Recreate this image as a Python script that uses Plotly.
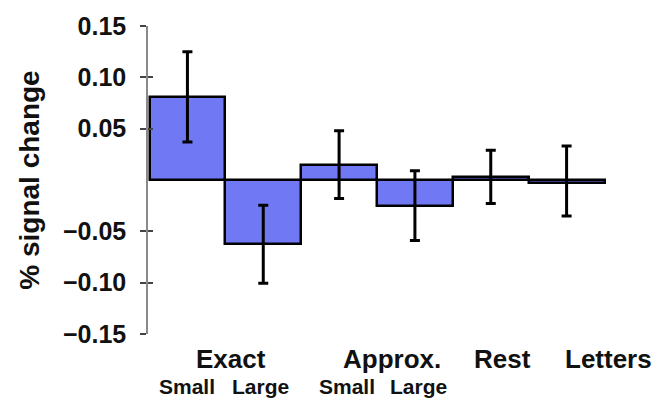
import plotly.graph_objects as go

# Mean % signal change per condition, with error bar lengths above / below the mean
conditions = ["Exact Small", "Exact Large", "Approx. Small", "Approx. Large", "Rest", "Letters"]
signal_change = [0.081, -0.0625, 0.015, -0.025, 0.003, -0.003]
error_plus = [0.044, 0.038, 0.033, 0.034, 0.026, 0.036]
error_minus = [0.044, 0.038, 0.033, 0.034, 0.026, 0.032]

# Y-axis ticks (no label at zero)
y_tickvals = [-0.15, -0.10, -0.05, 0.05, 0.10, 0.15]
y_ticktext = ["\u22120.15", "\u22120.10", "\u22120.05", "0.05", "0.10", "0.15"]

# Group labels under the bars and sub-labels for each bar
group_labels = ["Exact", "Approx.", "Rest", "Letters"]
group_label_x = [0.58, 2.70, 4.16, 5.55]
sub_labels = ["Small", "Large", "Small", "Large"]
sub_label_x = [0.0, 0.96, 2.10, 3.05]

FONT = "Liberation Sans, Arial, sans-serif"
bar_x = list(range(len(conditions)))

fig = go.Figure()
fig.add_trace(go.Bar(
    x=bar_x,
    y=signal_change,
    width=1.0,
    marker=dict(color="#7078f4", line=dict(color="#000000", width=2.5)),
    error_y=dict(type="data", array=error_plus, arrayminus=error_minus, visible=True,
                 color="#000000", thickness=3, width=5),
    showlegend=False,
    hoverinfo="skip",
))
# invisible trace carrying the overlay axis that draws the inner half of the ticks
fig.add_trace(go.Scatter(x=[0], y=[0], yaxis="y2", mode="markers",
                         marker=dict(opacity=0), showlegend=False, hoverinfo="skip"))

annotations = []
for lbl, xv in zip(group_labels, group_label_x):
    annotations.append(dict(x=xv, y=-0.08, xref="x", yref="paper", text=lbl,
                            showarrow=False, yanchor="middle",
                            font=dict(family=FONT, size=26, color="#111111", weight="bold")))
for lbl, xv in zip(sub_labels, sub_label_x):
    annotations.append(dict(x=xv, y=-0.172, xref="x", yref="paper", text=lbl,
                            showarrow=False, yanchor="middle",
                            font=dict(family=FONT, size=21, color="#111111", weight="bold")))

fig.update_layout(
    width=663, height=401,
    margin=dict(l=148, r=13, t=19, b=67),
    paper_bgcolor="#ffffff", plot_bgcolor="#ffffff",
    bargap=0,
    xaxis=dict(range=[-0.52, 6.1], visible=False, showgrid=False, zeroline=False),
    yaxis=dict(
        range=[-0.15, 0.15],
        tickvals=y_tickvals, ticktext=y_ticktext,
        ticks="outside", ticklen=6, tickwidth=1.5, tickcolor="#444444",
        showline=True, linecolor="#8a8a8a", linewidth=1.5,
        showgrid=False, zeroline=False,
        tickfont=dict(family=FONT, size=25, color="#111111", weight="bold"),
        ticklabelstandoff=9,
        title=dict(text="% signal change", standoff=15,
                   font=dict(family=FONT, size=28, color="#111111", weight="bold")),
    ),
    yaxis2=dict(
        range=[-0.15, 0.15], overlaying="y", side="left", anchor="x",
        tickvals=y_tickvals, showticklabels=False,
        ticks="inside", ticklen=5, tickwidth=1.5, tickcolor="#444444",
        showline=False, showgrid=False, zeroline=False,
    ),
    annotations=annotations,
)

fig.write_html("out.html")
